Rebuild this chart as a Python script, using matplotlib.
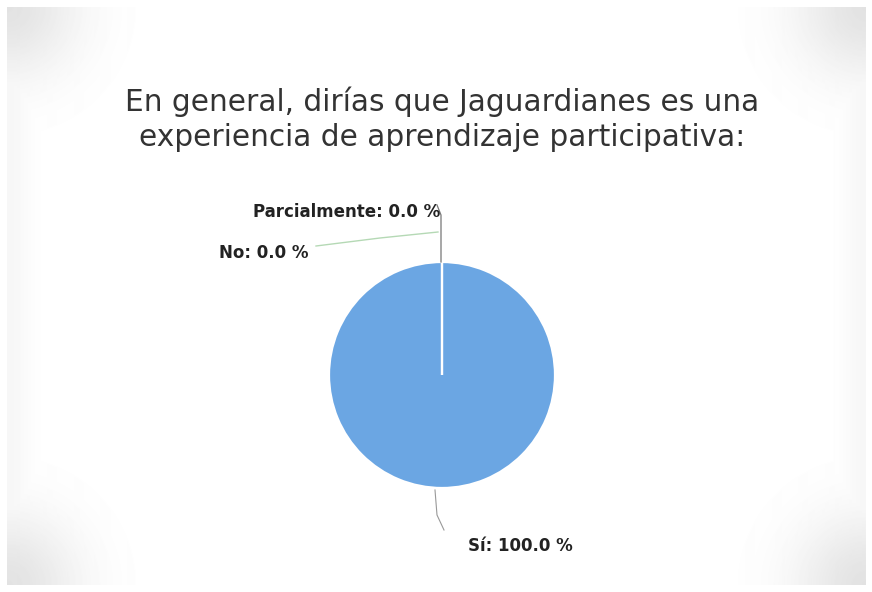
import numpy as np
import matplotlib
matplotlib.use("Agg")
import matplotlib.pyplot as plt

# Survey answers and their shares (%)
categories = ["Sí", "No", "Parcialmente"]
shares = [100.0, 0.0, 0.0]
title = "En general, dirías que Jaguardianes es una\nexperiencia de aprendizaje participativa:"

W, H = 872, 592
fig = plt.figure(figsize=(W / 100, H / 100), dpi=100)
fig.patch.set_facecolor("white")
ax = fig.add_axes([0, 0, 1, 1])

# Soft grey shading in the corners, inside a thin white frame
m = 7
iw, ih = W - 2 * m, H - 2 * m
yy, xx = np.mgrid[0:ih, 0:iw]
shade = np.zeros((ih, iw))
for cx, cy in [(0, 0), (iw, 0), (0, ih), (iw, ih)]:
    d = np.hypot(xx - cx, yy - cy)
    shade = np.maximum(shade, np.exp(-(d / 70.0) ** 2))
edge = np.exp(-(np.minimum(xx, iw - xx) / 22.0) ** 2) * 0.3
shade = np.maximum(shade, edge)
bg = 1 - 0.11 * shade
ax.imshow(bg, cmap="gray", vmin=0, vmax=1, extent=(m, W - m, m, H - m),
          origin="upper", zorder=0, interpolation="bilinear")

# Pie
center = (442, H - 375)
radius = 113
wedges, _ = ax.pie(shares, startangle=90, counterclock=False,
                   colors=["#6ba6e3", "#9fd3a0", "#f3c98b"],
                   center=center, radius=radius, frame=True,
                   wedgeprops=dict(edgecolor="white", linewidth=1.6))
for w in wedges:
    w.set_zorder(2)
ax.set_xlim(0, W)
ax.set_ylim(0, H)
ax.set_aspect("equal")
ax.axis("off")

# Title
fig.text(442 / W, (H - 119) / H, title, ha="center", va="center",
         fontsize=21.3, color="#333333", family="DejaVu Sans",
         linespacing=1.25)

lab_kw = dict(fontsize=12, fontweight="bold", color="#222222",
              family="DejaVu Sans", zorder=4)

def fmt(c, v):
    return f"{c}: {v:.1f} %"

# Sí label below the pie
ax.text(468, H - 546, fmt(categories[0], shares[0]), ha="left", va="center", **lab_kw)
ax.plot([435, 437, 444], [H - 490, H - 515, H - 530], color="#999999", lw=0.8, zorder=3)

# No label, leader running to the top of the pie
ax.text(308, H - 253, fmt(categories[1], shares[1]), ha="right", va="center", **lab_kw)
ax.plot([316, 380, 438], [H - 246, H - 238, H - 232], color="#b5d9b5", lw=1.0, zorder=3)

# Parcialmente label, leader running to the top of the pie
ax.text(440, H - 212, fmt(categories[2], shares[2]), ha="right", va="center", **lab_kw)
ax.plot([437, 441, 441], [H - 205, H - 215, H - 262], color="#777777", lw=0.9, zorder=3)

fig.savefig("out.png", dpi=100, facecolor="white")
